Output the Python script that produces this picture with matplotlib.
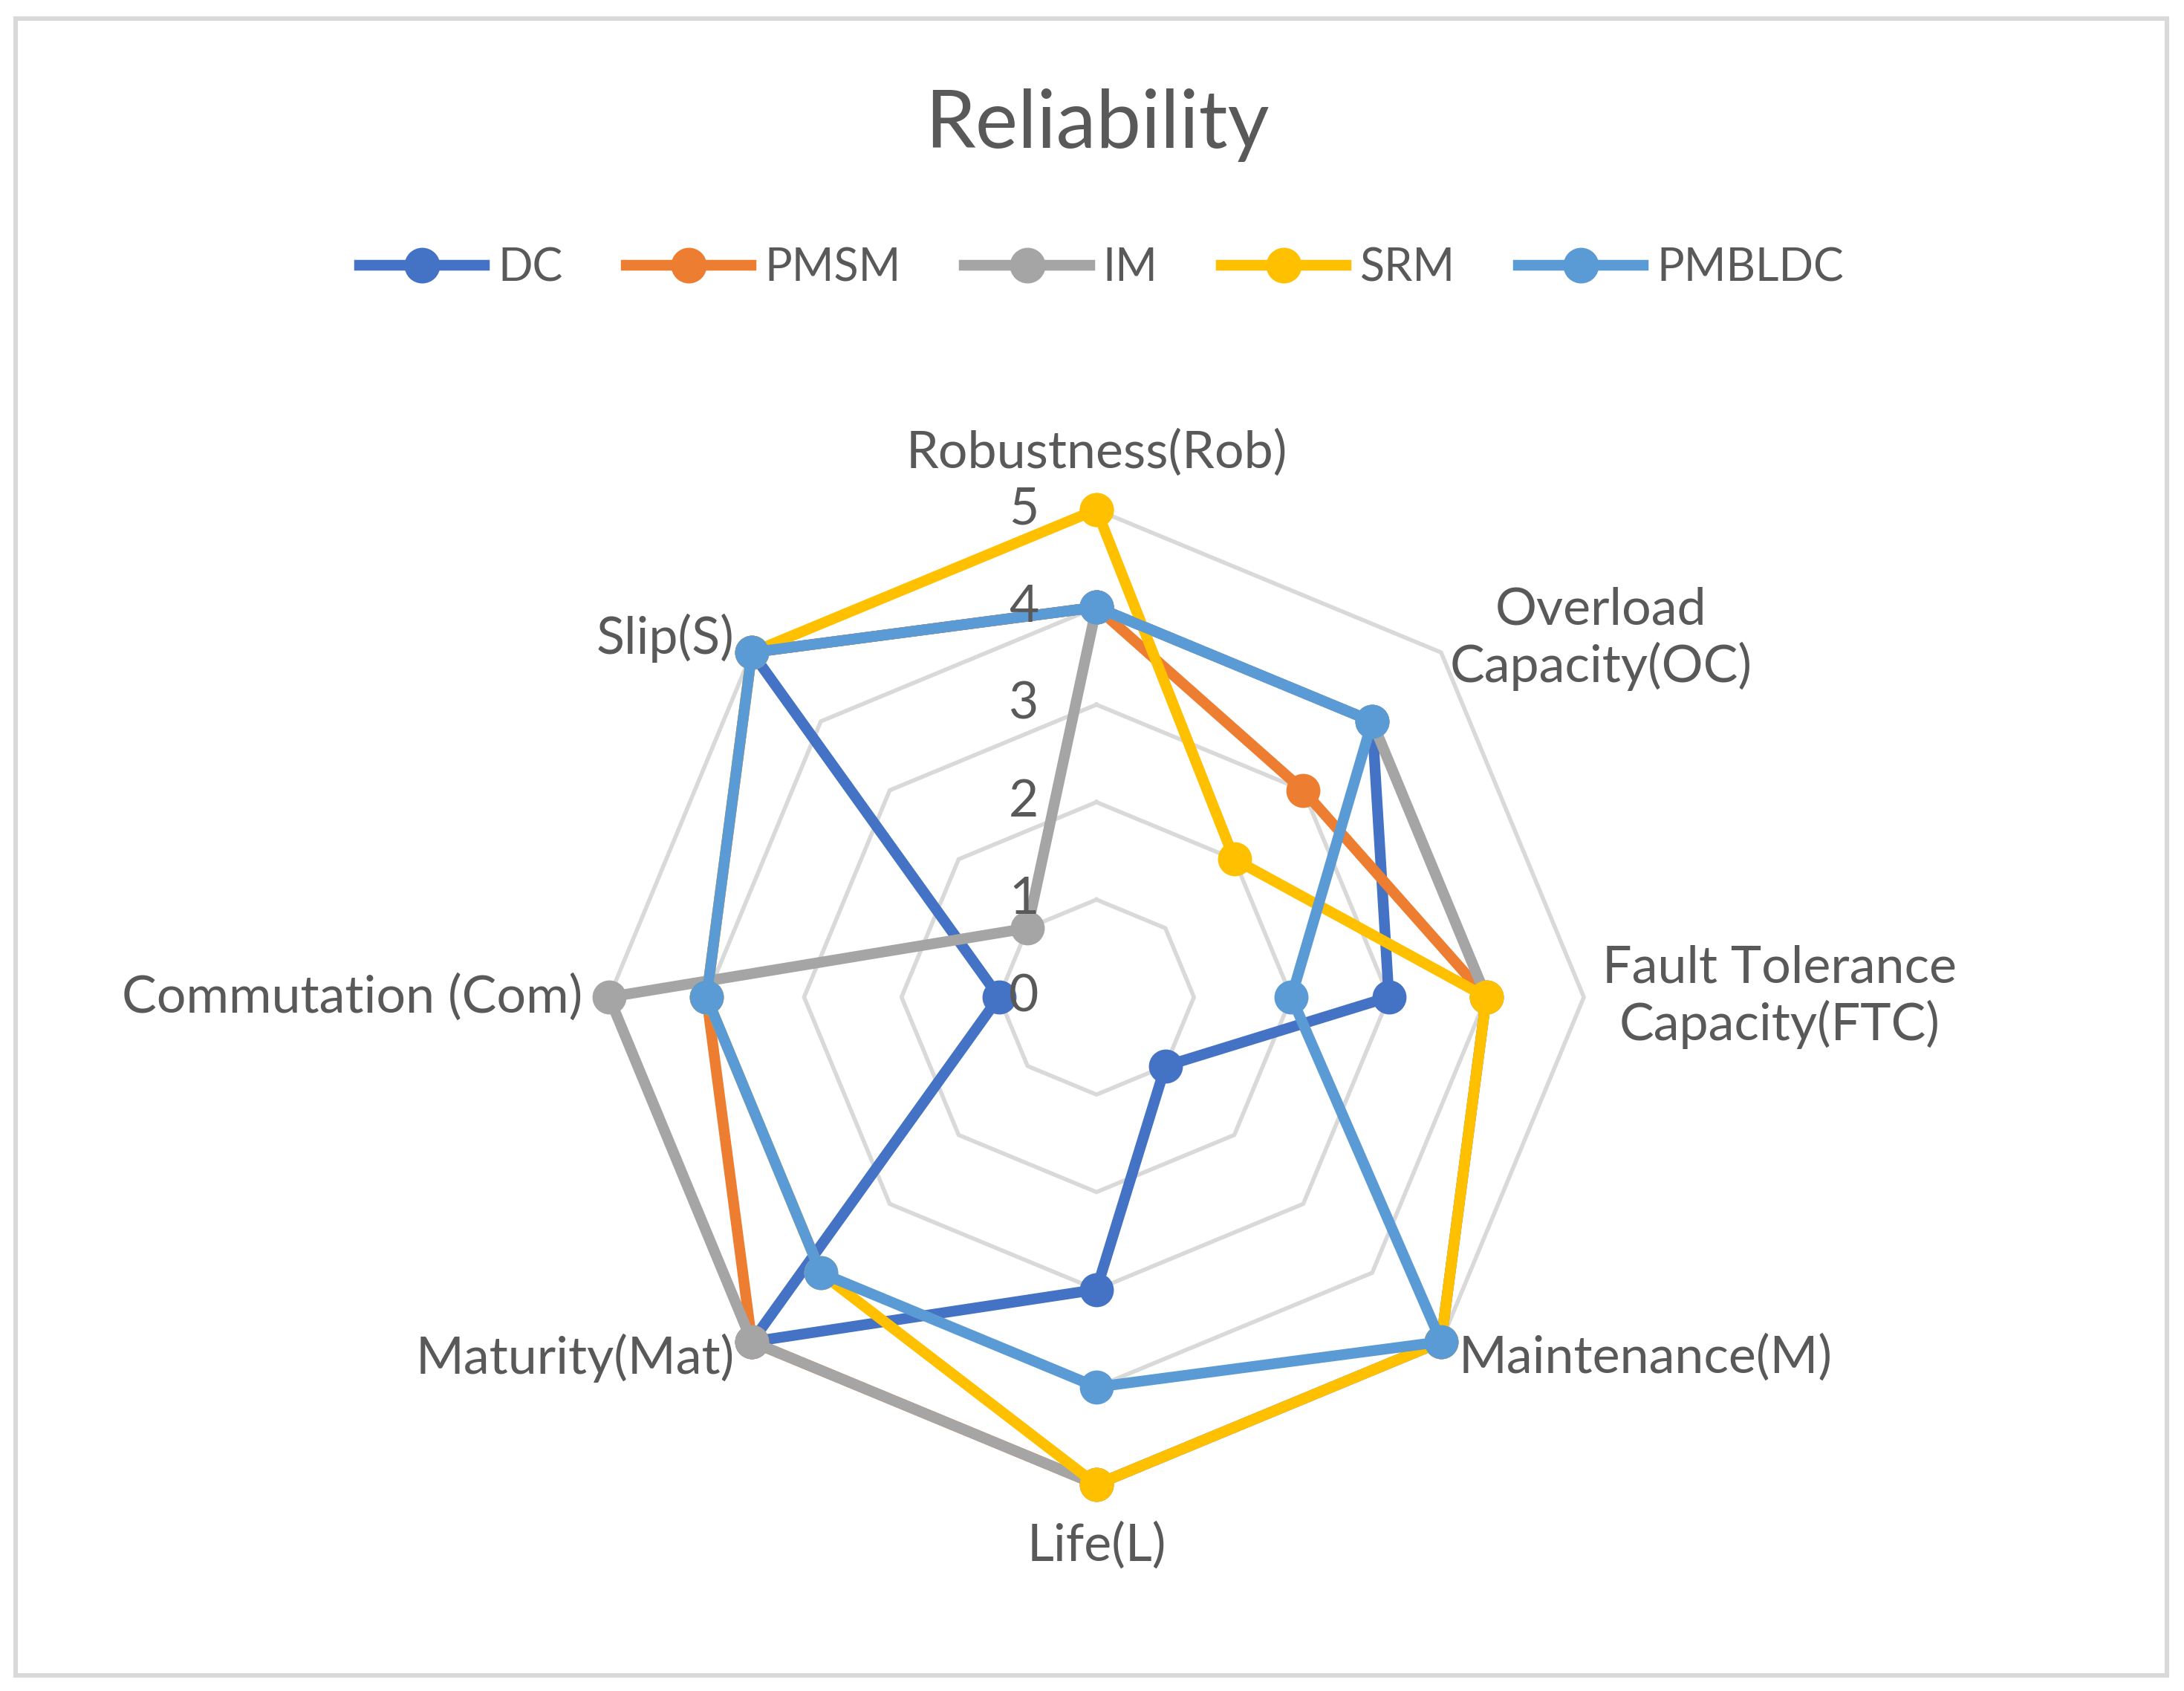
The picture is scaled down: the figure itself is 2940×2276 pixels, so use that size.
import numpy as np
import matplotlib
matplotlib.use("Agg")
import matplotlib.pyplot as plt
from matplotlib.patches import Rectangle

plt.rcParams['font.family'] = ['Lato', 'DejaVu Sans']

# data
categories = ["Robustness(Rob)", "Overload\nCapacity(OC)", "Fault Tolerance\nCapacity(FTC)",
              "Maintenance(M)", "Life(L)", "Maturity(Mat)", "Commutation (Com)", "Slip(S)"]
dc = [4, 4, 3, 1, 3, 5, 1, 5]
pmsm = [4, 3, 4, 5, 5, 5, 4, 5]
im = [4, 4, 4, 5, 5, 5, 5, 1]
srm = [5, 2, 4, 5, 5, 4, 4, 5]
pmbldc = [4, 4, 2, 5, 4, 4, 4, 5]
series_names = ["DC", "PMSM", "IM", "SRM", "PMBLDC"]
tick_values = [0, 1, 2, 3, 4, 5]

colors = ["#4472C4", "#ED7D31", "#A5A5A5", "#FFC000", "#5B9BD5"]
text_col = "#595959"
grid_col = "#D9D9D9"

fig = plt.figure(figsize=(14.7, 11.38), dpi=200)
ax = fig.add_axes([0.2789, 0.1221, 0.4463, 0.5765], projection='polar')
ax.set_theta_zero_location('N')
ax.set_theta_direction(-1)
ax.set_ylim(0, 5)
ax.grid(False)
ax.spines['polar'].set_visible(False)
ax.set_xticks([])
ax.set_yticks([])
ax.patch.set_alpha(0)

n = len(categories)
angles = np.arange(n) * 2 * np.pi / n
closed = np.append(angles, angles[0])

# octagon gridlines
for k in tick_values[1:]:
    ax.plot(closed, [k] * (n + 1), color=grid_col, lw=2.0, zorder=1, clip_on=False)

all_series = [dc, pmsm, im, srm, pmbldc]
for i, (name, vals) in enumerate(zip(series_names, all_series)):
    v = np.append(vals, vals[0])
    ax.plot(closed, v, color=colors[i], lw=5.2, marker='o', markersize=15.5,
            label=name, zorder=3 + i, clip_on=False, solid_joinstyle='round')

# radial tick labels
for k in tick_values:
    ax.annotate(str(k), xy=(0, k), xytext=(-28, 0), textcoords='offset points',
                ha='right', va='center', fontsize=25, color=text_col, zorder=20)

# axis labels: offsets (points) and alignment per axis
label_pos = [((0, 27.7), 'center'), ((77.6, 6.7), 'center'), ((95, 0), 'center'),
             ((8.4, -7.8), 'left'), ((0, -29.7), 'center'), ((-8.4, -7.8), 'right'),
             ((-12.8, 0), 'right'), ((-8.4, 7.1), 'right')]
for ang, lab, (off, ha) in zip(angles, categories, label_pos):
    ax.annotate(lab, xy=(ang, 5), xytext=off, textcoords='offset points',
                ha=ha, va='center', multialignment='center', fontsize=25.2,
                color=text_col, linespacing=1.2, annotation_clip=False)

fig.text(0.5025, 0.9126, "Reliability", ha='center', va='baseline',
         fontsize=39, color=text_col)

leg = fig.legend(loc='center', bbox_to_anchor=(0.5045, 0.8415), ncol=5, frameon=False,
                 fontsize=22, handlelength=2.75, handletextpad=0.3, columnspacing=1.4,
                 markerscale=1.05)
for t in leg.get_texts():
    t.set_color(text_col)

fig.add_artist(Rectangle((21 / 2940, 1 - 2255 / 2276), (2917 - 21) / 2940, (2255 - 25) / 2276,
                         transform=fig.transFigure, fill=False, edgecolor=grid_col, lw=2.2))

fig.savefig("out.png", dpi=200, facecolor='white')
